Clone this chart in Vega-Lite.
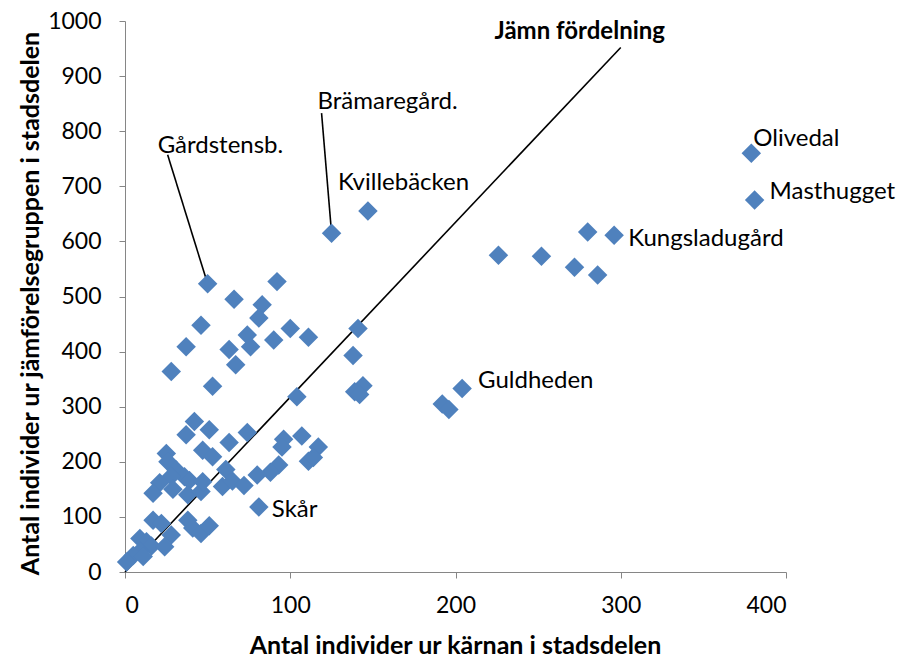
{
  "$schema": "https://vega.github.io/schema/vega-lite/v6.json",
  "width": 661,
  "height": 551,
  "autosize": {"type": "none"},
  "padding": {"left": 125, "top": 21, "right": 115, "bottom": 87},
  "background": "white",
  "config": {
    "view": {"stroke": null},
    "font": "Lato",
    "axis": {
      "grid": false,
      "domainColor": "#868686",
      "tickColor": "#868686",
      "tickSize": 6,
      "labelColor": "black",
      "labelFont": "Lato",
      "labelFontSize": 23,
      "titleFont": "Lato",
      "titleFontSize": 25,
      "titleFontWeight": "bold",
      "titleColor": "black"
    }
  },
  "datasets": {
    "points": [
      {"x": 379, "y": 760, "name": "Olivedal"},
      {"x": 381, "y": 675, "name": "Masthugget"},
      {"x": 296, "y": 611, "name": "Kungsladugård"},
      {"x": 280, "y": 617, "name": ""},
      {"x": 226, "y": 575, "name": ""},
      {"x": 252, "y": 573, "name": ""},
      {"x": 272, "y": 553, "name": ""},
      {"x": 286, "y": 539, "name": ""},
      {"x": 147, "y": 655, "name": "Kvillebäcken"},
      {"x": 125, "y": 615, "name": "Brämaregård."},
      {"x": 50, "y": 523, "name": "Gårdstensb."},
      {"x": 204, "y": 333, "name": "Guldheden"},
      {"x": 192, "y": 305, "name": ""},
      {"x": 196, "y": 295, "name": ""},
      {"x": 141, "y": 442, "name": ""},
      {"x": 138, "y": 393, "name": ""},
      {"x": 144, "y": 338, "name": ""},
      {"x": 139, "y": 327, "name": ""},
      {"x": 142, "y": 322, "name": ""},
      {"x": 81, "y": 118, "name": "Skår"},
      {"x": 66, "y": 495, "name": ""},
      {"x": 92, "y": 527, "name": ""},
      {"x": 83, "y": 485, "name": ""},
      {"x": 81, "y": 461, "name": ""},
      {"x": 46, "y": 448, "name": ""},
      {"x": 100, "y": 442, "name": ""},
      {"x": 111, "y": 426, "name": ""},
      {"x": 74, "y": 430, "name": ""},
      {"x": 90, "y": 421, "name": ""},
      {"x": 37, "y": 409, "name": ""},
      {"x": 76, "y": 409, "name": ""},
      {"x": 63, "y": 404, "name": ""},
      {"x": 67, "y": 376, "name": ""},
      {"x": 28, "y": 364, "name": ""},
      {"x": 53, "y": 337, "name": ""},
      {"x": 104, "y": 318, "name": ""},
      {"x": 42, "y": 273, "name": ""},
      {"x": 51, "y": 258, "name": ""},
      {"x": 37, "y": 249, "name": ""},
      {"x": 74, "y": 253, "name": ""},
      {"x": 63, "y": 235, "name": ""},
      {"x": 96, "y": 241, "name": ""},
      {"x": 107, "y": 247, "name": ""},
      {"x": 95, "y": 227, "name": ""},
      {"x": 117, "y": 227, "name": ""},
      {"x": 111, "y": 201, "name": ""},
      {"x": 114, "y": 208, "name": ""},
      {"x": 25, "y": 215, "name": ""},
      {"x": 47, "y": 221, "name": ""},
      {"x": 53, "y": 209, "name": ""},
      {"x": 26, "y": 200, "name": ""},
      {"x": 93, "y": 194, "name": ""},
      {"x": 88, "y": 181, "name": ""},
      {"x": 80, "y": 176, "name": ""},
      {"x": 61, "y": 186, "name": ""},
      {"x": 31, "y": 185, "name": ""},
      {"x": 36, "y": 173, "name": ""},
      {"x": 39, "y": 166, "name": ""},
      {"x": 28, "y": 174, "name": ""},
      {"x": 21, "y": 162, "name": ""},
      {"x": 17, "y": 143, "name": ""},
      {"x": 29, "y": 150, "name": ""},
      {"x": 38, "y": 140, "name": ""},
      {"x": 46, "y": 146, "name": ""},
      {"x": 47, "y": 164, "name": ""},
      {"x": 59, "y": 155, "name": ""},
      {"x": 65, "y": 165, "name": ""},
      {"x": 72, "y": 157, "name": ""},
      {"x": 17, "y": 94, "name": ""},
      {"x": 22, "y": 88, "name": ""},
      {"x": 38, "y": 94, "name": ""},
      {"x": 41, "y": 80, "name": ""},
      {"x": 46, "y": 70, "name": ""},
      {"x": 51, "y": 84, "name": ""},
      {"x": 28, "y": 67, "name": ""},
      {"x": 9, "y": 61, "name": ""},
      {"x": 13, "y": 55, "name": ""},
      {"x": 16, "y": 47, "name": ""},
      {"x": 24, "y": 46, "name": ""},
      {"x": 9, "y": 37, "name": ""},
      {"x": 5, "y": 30, "name": ""},
      {"x": 11, "y": 28, "name": ""},
      {"x": 1, "y": 18, "name": ""}
    ],
    "diag": [
      {"x": 0, "y": 0, "label": ""},
      {"x": 300, "y": 952, "label": "Jämn fördelning"}
    ]
  },
  "encoding": {
    "x": {
      "field": "x",
      "type": "quantitative",
      "scale": {"domain": [0, 400], "nice": false, "zero": true},
      "axis": {
        "values": [0, 100, 200, 300, 400],
        "format": "d",
        "title": "Antal individer ur kärnan i stadsdelen",
        "labelPadding": 16,
        "titleX": 330,
        "titleY": 73,
        "titleBaseline": "middle",
        "titleAlign": "center"
      }
    },
    "y": {
      "field": "y",
      "type": "quantitative",
      "scale": {"domain": [0, 1000], "nice": false},
      "axis": {
        "values": [0, 100, 200, 300, 400, 500, 600, 700, 800, 900, 1000],
        "format": "d",
        "title": "Antal individer ur jämförelsegruppen i stadsdelen",
        "labelPadding": 18,
        "titleX": -95,
        "titleY": 282,
        "titleAngle": 270,
        "titleBaseline": "middle",
        "titleAlign": "center"
      }
    }
  },
  "layer": [
    {
      "data": {"name": "diag"},
      "mark": {"type": "line", "color": "black", "strokeWidth": 1.6},
      "encoding": {}
    },
    {
      "data": {"name": "points"},
      "transform": [{"filter": "datum.name == 'Gårdstensb.'"}],
      "mark": {"type": "rule", "color": "black", "strokeWidth": 1.6, "x2Offset": -40, "y2Offset": -129},
      "encoding": {"x2": {"field": "x"}, "y2": {"field": "y"}}
    },
    {
      "data": {"name": "points"},
      "transform": [{"filter": "datum.name == 'Brämaregård.'"}],
      "mark": {"type": "rule", "color": "black", "strokeWidth": 1.6, "x2Offset": -10, "y2Offset": -120},
      "encoding": {"x2": {"field": "x"}, "y2": {"field": "y"}}
    },
    {
      "data": {"name": "points"},
      "mark": {"type": "point", "shape": "diamond", "filled": true, "size": 380, "color": "#4F81BD", "opacity": 1}
    },
    {
      "data": {"name": "diag"},
      "transform": [{"filter": "datum.label != ''"}],
      "mark": {"type": "text", "font": "Lato", "fontSize": 24, "fontWeight": "bold", "align": "center", "baseline": "middle", "dx": -41, "dy": -15, "color": "black"},
      "encoding": {"text": {"field": "label"}}
    },
    {
      "data": {"name": "points"},
      "transform": [{"filter": "datum.name == 'Olivedal'"}],
      "mark": {"type": "text", "fontSize": 24, "align": "left", "baseline": "middle", "dx": 2, "dy": -14, "color": "black"},
      "encoding": {"text": {"field": "name"}}
    },
    {
      "data": {"name": "points"},
      "transform": [{"filter": "datum.name == 'Masthugget'"}],
      "mark": {"type": "text", "fontSize": 24, "align": "left", "baseline": "middle", "dx": 15, "dy": -8, "color": "black"},
      "encoding": {"text": {"field": "name"}}
    },
    {
      "data": {"name": "points"},
      "transform": [{"filter": "datum.name == 'Kungsladugård'"}],
      "mark": {"type": "text", "fontSize": 24, "align": "left", "baseline": "middle", "dx": 14, "dy": 4, "color": "black"},
      "encoding": {"text": {"field": "name"}}
    },
    {
      "data": {"name": "points"},
      "transform": [{"filter": "datum.name == 'Kvillebäcken'"}],
      "mark": {"type": "text", "fontSize": 24, "align": "left", "baseline": "middle", "dx": -30, "dy": -28, "color": "black"},
      "encoding": {"text": {"field": "name"}}
    },
    {
      "data": {"name": "points"},
      "transform": [{"filter": "datum.name == 'Guldheden'"}],
      "mark": {"type": "text", "fontSize": 24, "align": "left", "baseline": "middle", "dx": 16, "dy": -8, "color": "black"},
      "encoding": {"text": {"field": "name"}}
    },
    {
      "data": {"name": "points"},
      "transform": [{"filter": "datum.name == 'Skår'"}],
      "mark": {"type": "text", "fontSize": 24, "align": "left", "baseline": "middle", "dx": 13, "dy": 3, "color": "black"},
      "encoding": {"text": {"field": "name"}}
    },
    {
      "data": {"name": "points"},
      "transform": [{"filter": "datum.name == 'Gårdstensb.'"}],
      "mark": {"type": "text", "fontSize": 24, "align": "left", "baseline": "middle", "dx": -50, "dy": -138, "color": "black"},
      "encoding": {"text": {"field": "name"}}
    },
    {
      "data": {"name": "points"},
      "transform": [{"filter": "datum.name == 'Brämaregård.'"}],
      "mark": {"type": "text", "fontSize": 24, "align": "left", "baseline": "middle", "dx": -14, "dy": -131, "color": "black"},
      "encoding": {"text": {"field": "name"}}
    }
  ]
}
